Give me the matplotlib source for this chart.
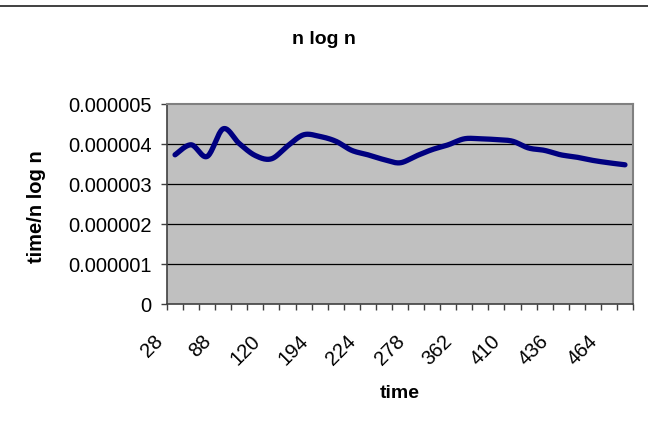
import numpy as np
import matplotlib
matplotlib.use("Agg")
import matplotlib.pyplot as plt
from matplotlib.transforms import ScaledTranslation
from matplotlib.lines import Line2D

# ---- data ----
categories = [28, 48, 68, 88, 98, 110, 120, 144, 170, 194, 204, 214, 224, 242,
              260, 278, 306, 334, 362, 378, 394, 410, 418, 428, 436, 446, 456,
              464, 472]
values = [3.73, 3.98, 3.69, 4.38, 4.01, 3.71, 3.63, 3.95, 4.23, 4.19, 4.07,
          3.84, 3.73, 3.61, 3.53, 3.70, 3.86, 3.98, 4.13, 4.13, 4.11, 4.07,
          3.90, 3.84, 3.73, 3.67, 3.59, 3.53, 3.48]
values = [v * 1e-6 for v in values]
yticks = [0, 0.000001, 0.000002, 0.000003, 0.000004, 0.000005]
ytick_labels = ["0", "0.000001", "0.000002", "0.000003", "0.000004", "0.000005"]
label_step = 3

title = "n log n"
xlabel = "time"
ylabel = "time/n log n"

plt.rcParams['font.family'] = ['Liberation Sans', 'DejaVu Sans']

W, H, DPI = 648, 439, 100
fig = plt.figure(figsize=(W / DPI, H / DPI), dpi=DPI)
fig.patch.set_facecolor('white')
ax = fig.add_axes([167 / W, 1 - 305 / H, (633 - 167) / W, (305 - 105) / H])
ax.set_facecolor('#C0C0C0')


def catmull_rom(x, y, n=20):
    x = np.asarray(x, float)
    y = np.asarray(y, float)
    px = np.concatenate([[x[0]], x, [x[-1]]])
    py = np.concatenate([[y[0]], y, [y[-1]]])
    xs, ys = [], []
    for i in range(1, len(px) - 2):
        p0, p1, p2, p3 = (np.array([px[j], py[j]]) for j in (i - 1, i, i + 1, i + 2))
        c1 = p1 + (p2 - p0) / 6
        c2 = p2 - (p3 - p1) / 6
        t = np.linspace(0, 1, n, endpoint=False)[:, None]
        pts = ((1 - t) ** 3) * p1 + 3 * ((1 - t) ** 2) * t * c1 + 3 * (1 - t) * t ** 2 * c2 + t ** 3 * p2
        xs.append(pts[:, 0])
        ys.append(pts[:, 1])
    xs.append([x[-1]])
    ys.append([y[-1]])
    return np.concatenate(xs), np.concatenate(ys)


idx = np.arange(len(categories))
sx, sy = catmull_rom(idx, values)
ax.plot(sx, sy, color='#000080', lw=3.8, solid_capstyle='round',
        solid_joinstyle='round', zorder=3)

ax.set_xlim(-0.5, len(categories) - 0.5)
ax.set_ylim(0, 5e-6)

# gridlines
for yv in yticks[1:-1]:
    ax.axhline(yv, color='black', lw=0.9, zorder=1)

# spines
for s in ['top', 'right']:
    ax.spines[s].set_color('#808080')
    ax.spines[s].set_linewidth(1.5)
for s in ['left', 'bottom']:
    ax.spines[s].set_color('#404040')
    ax.spines[s].set_linewidth(1.2)

# y ticks
ax.set_yticks(yticks)
ax.set_yticklabels(ytick_labels, fontsize=14.5)
ax.tick_params(axis='y', direction='out', length=4, width=1, color='#404040', pad=7)

# x ticks: minor ticks at boundaries, labels on every 3rd category
ax.set_xticks(np.arange(-0.5, len(categories) + 0.5, 1), minor=True)
ax.tick_params(axis='x', which='minor', direction='out', length=4, width=1, color='#404040')
major = idx[::label_step]
ax.set_xticks(major)
ax.set_xticklabels([str(categories[i]) for i in major], fontsize=14.5,
                   rotation=45, ha='right', va='top')
ax.tick_params(axis='x', which='major', length=0, pad=19)
offset = ScaledTranslation(-8 / DPI, 0, fig.dpi_scale_trans)
for lab in ax.get_xticklabels():
    lab.set_transform(lab.get_transform() + offset)

# titles
fig.text(0.5, 1 - 40 / H, title, ha='center', va='center', fontsize=14,
         fontweight='bold')
fig.text(400 / W, 1 - 394 / H, xlabel, ha='center', va='center', fontsize=14,
         fontweight='bold')
fig.text(37 / W, 1 - 207 / H, ylabel, ha='center', va='center', fontsize=14.5,
         fontweight='bold', rotation=90)

# top border line
fig.add_artist(Line2D([0, 1], [1 - 7 / H, 1 - 7 / H], color='#202020', lw=1.2,
                      transform=fig.transFigure))

fig.savefig('out.png', dpi=DPI)
